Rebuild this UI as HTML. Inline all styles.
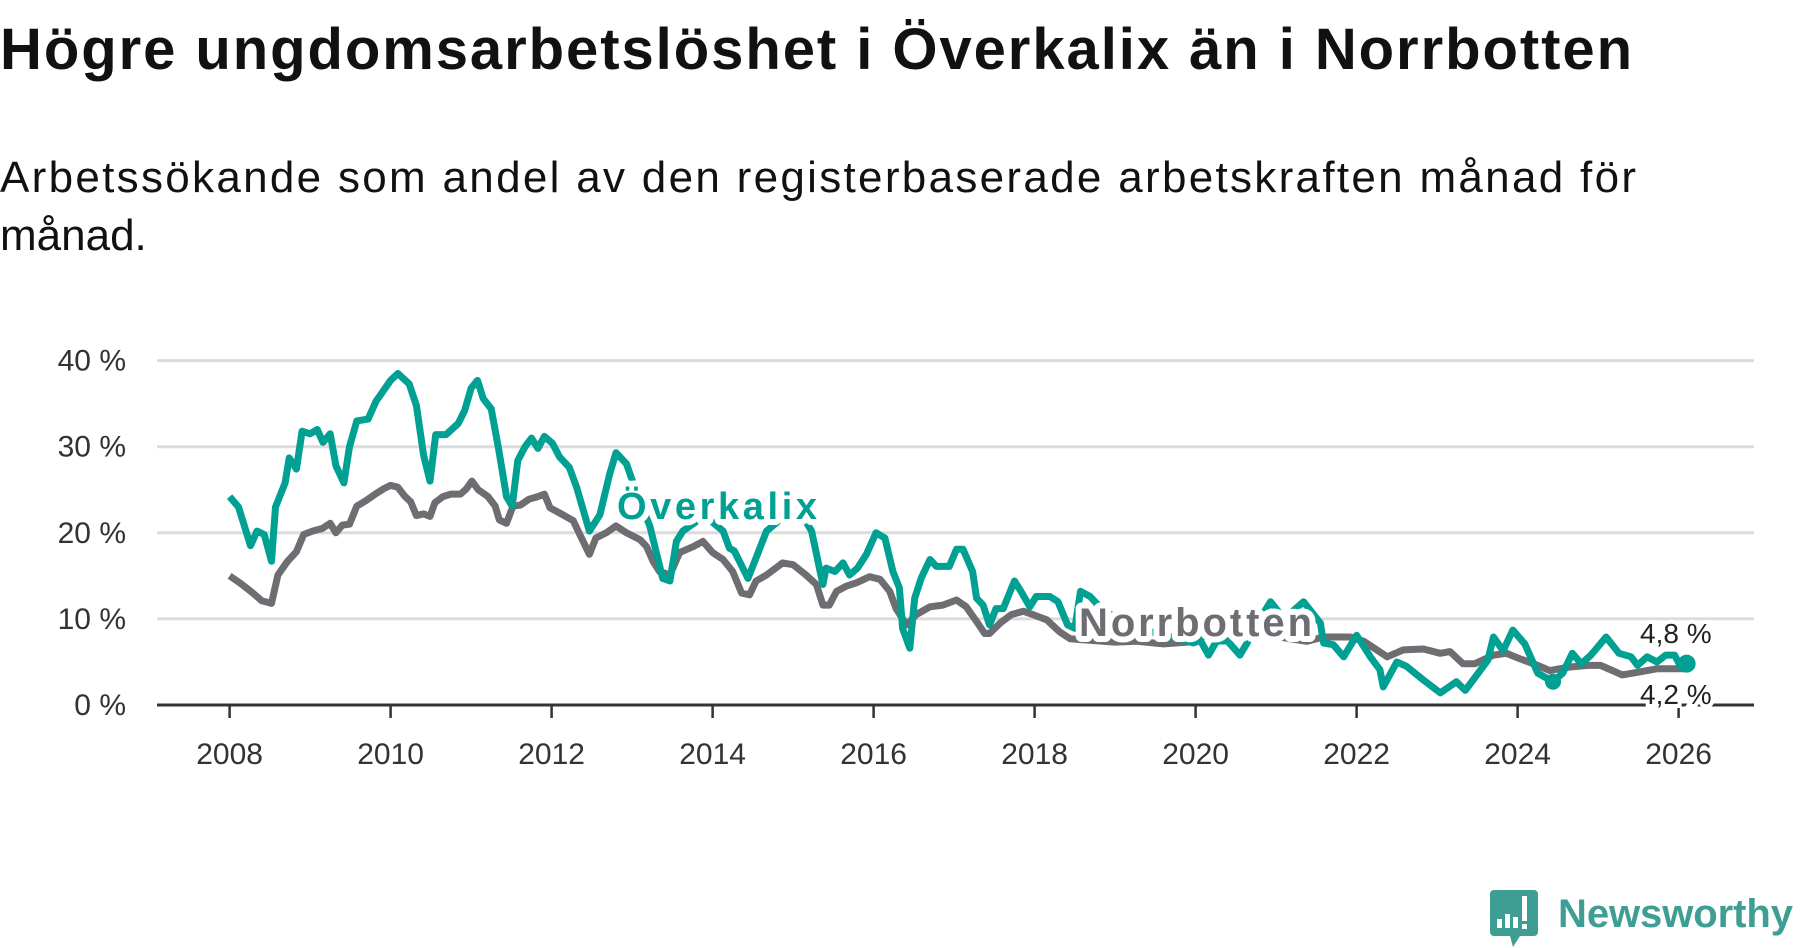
<!DOCTYPE html>
<html><head><meta charset="utf-8"><style>
html,body{margin:0;padding:0;background:#fff;}
svg{display:block;font-family:"Liberation Sans",sans-serif;}
</style></head><body>
<svg id="chart" width="1800" height="948" viewBox="0 0 1800 948">
<text x="0" y="69" font-size="58" font-weight="bold" fill="#111" textLength="1632">Högre ungdomsarbetslöshet i Överkalix än i Norrbotten</text>
<text x="0" y="192" font-size="44" fill="#111" textLength="1636">Arbetssökande som andel av den registerbaserade arbetskraften månad för</text>
<text x="0" y="250" font-size="44" fill="#111">månad.</text>
<g id="grid"></g>
<g id="axes"></g>
<g id="series"></g>
<g id="labels"></g>
<g>
<path d="M1494 890 h40 a4 4 0 0 1 4 4 v38 a4 4 0 0 1 -4 4 h-14 l-7 11 l-3 -11 h-16 a4 4 0 0 1 -4 -4 v-38 a4 4 0 0 1 4 -4z" fill="#3e9e94"/>
<rect x="1497" y="919" width="5" height="9" fill="#fff"/>
<rect x="1505" y="914" width="5" height="14" fill="#fff"/>
<rect x="1513" y="917" width="5" height="11" fill="#fff"/>
<rect x="1522" y="896" width="5" height="25" fill="#fff"/>
<rect x="1522" y="924" width="5" height="5" fill="#fff"/>
<text x="1558" y="927" font-size="40" font-weight="bold" fill="#3e9e94" textLength="235">Newsworthy</text>
</g>
</svg>
<script>
const yTicks = [0, 10, 20, 30, 40];
const yTickLabels = ["0 %", "10 %", "20 %", "30 %", "40 %"];
const xTicks = [2008, 2010, 2012, 2014, 2016, 2018, 2020, 2022, 2024, 2026];
const xTickLabels = ["2008", "2010", "2012", "2014", "2016", "2018", "2020", "2022", "2024", "2026"];
const overkalixDates = [
2008.0,2008.11,2008.26,2008.34,2008.43,2008.52,2008.57,2008.69,2008.74,2008.83,
2008.9,2009.0,2009.09,2009.16,2009.25,2009.32,2009.42,2009.49,2009.58,2009.72,
2009.82,2009.91,2010.0,2010.09,2010.23,2010.32,2010.41,2010.49,2010.56,2010.69,
2010.84,2010.92,2011.0,2011.08,2011.15,2011.25,2011.34,2011.44,2011.51,2011.58,
2011.67,2011.75,2011.83,2011.91,2012.01,2012.1,2012.22,2012.31,2012.47,2012.6,
2012.72,2012.8,2012.93,2013.08,2013.22,2013.38,2013.47,2013.55,2013.63,2013.9,
2014.13,2014.21,2014.27,2014.44,2014.54,2014.67,2014.9,2015.05,2015.23,2015.37,
2015.41,2015.52,2015.62,2015.7,2015.8,2015.91,2016.03,2016.14,2016.24,2016.32,
2016.36,2016.45,2016.51,2016.59,2016.7,2016.78,2016.94,2017.03,2017.11,2017.23,
2017.28,2017.36,2017.44,2017.52,2017.61,2017.75,2017.83,2017.94,2018.02,2018.19,
2018.29,2018.41,2018.5,2018.57,2018.69,2018.85,2019.05,2019.25,2019.45,2019.65,
2019.85,2019.97,2020.06,2020.16,2020.26,2020.39,2020.55,2020.64,2020.8,2020.93,
2021.1,2021.34,2021.55,2021.59,2021.71,2021.84,2022.0,2022.17,2022.29,2022.33,
2022.5,2022.62,2022.83,2023.04,2023.24,2023.35,2023.51,2023.63,2023.7,2023.82,
2023.94,2024.09,2024.25,2024.44,2024.56,2024.68,2024.79,2024.91,2025.1,2025.26,
2025.41,2025.49,2025.61,2025.73,2025.84,2025.95,2026.03,2026.1];
const overkalixValues = [
24.2,23,18.5,20.2,19.8,16.7,23,25.8,28.7,27.4,
31.8,31.5,32,30.5,31.5,27.8,25.8,30,33,33.2,
35.3,36.5,37.7,38.5,37.3,34.8,29,26,31.4,31.4,
32.7,34.2,36.8,37.7,35.6,34.4,29.8,24.2,23.1,28.4,
30,31,29.8,31.2,30.4,28.8,27.6,25.3,20.2,22.1,
26.8,29.3,28,24,20.8,14.7,14.4,19,20.2,22,
20.2,18.2,17.9,14.7,17.1,20.2,22,23,20.2,14,
15.9,15.5,16.5,15.1,15.9,17.5,20,19.4,15.5,13.6,
8.9,6.6,12.4,14.7,16.9,16.1,16.1,18.1,18.1,15.5,
12.4,11.6,9.3,11.2,11.2,14.4,13.2,11.4,12.6,12.6,
12,9.3,8.9,13.2,12.6,11,10,9,8.5,8,
7.6,7.2,7.5,5.8,7.4,7.5,5.8,7.2,10,12,
10,12,9.5,7.2,7,5.6,8.1,5.6,4.1,2.1,
5,4.5,2.9,1.4,2.7,1.7,3.7,5.2,7.9,6.3,
8.7,7.1,3.7,2.7,3.7,6,4.8,5.8,7.9,6,
5.6,4.6,5.6,5,5.8,5.8,4.4,4.8];
const norrbottenDates = [
2008.0,2008.14,2008.29,2008.4,2008.52,2008.6,2008.72,2008.83,2008.92,2009.03,
2009.15,2009.25,2009.32,2009.4,2009.49,2009.58,2009.69,2009.81,2009.91,2010.0,
2010.09,2010.18,2010.25,2010.32,2010.41,2010.49,2010.55,2010.65,2010.75,2010.87,
2010.94,2011.01,2011.09,2011.21,2011.3,2011.35,2011.44,2011.52,2011.61,2011.72,
2011.83,2011.91,2011.98,2012.1,2012.27,2012.35,2012.47,2012.55,2012.68,2012.8,
2012.93,2013.1,2013.18,2013.26,2013.34,2013.47,2013.59,2013.76,2013.88,2014.0,
2014.13,2014.25,2014.36,2014.46,2014.54,2014.67,2014.87,2015.0,2015.16,2015.29,
2015.37,2015.45,2015.54,2015.66,2015.79,2015.95,2016.08,2016.2,2016.28,2016.41,
2016.53,2016.7,2016.86,2017.03,2017.15,2017.28,2017.38,2017.44,2017.57,2017.71,
2017.86,2017.98,2018.15,2018.31,2018.44,2018.7,2019.0,2019.27,2019.6,2019.9,
2020.3,2020.8,2021.1,2021.38,2021.59,2021.92,2022.09,2022.38,2022.58,2022.83,
2023.04,2023.16,2023.32,2023.47,2023.7,2023.86,2024.02,2024.25,2024.4,2024.64,
2024.87,2025.03,2025.18,2025.3,2025.49,2025.73,2025.96,2026.1];
const norrbottenValues = [
15,14.1,13,12.1,11.8,15.1,16.7,17.8,19.8,20.2,
20.5,21.1,20,20.9,21,23.1,23.7,24.5,25.1,25.5,
25.3,24.2,23.6,22,22.2,21.9,23.5,24.2,24.5,24.5,
25.1,26,25,24.2,23.1,21.5,21.1,23.1,23.2,23.9,
24.2,24.5,22.9,22.3,21.4,19.8,17.5,19.4,20,20.8,
20,19.2,18.4,16.7,15.5,15.1,17.7,18.4,19,17.7,
16.9,15.5,13,12.8,14.4,15.1,16.5,16.3,15.1,14,
11.6,11.6,13.2,13.8,14.2,14.9,14.6,13.2,11.2,9.3,
10.5,11.4,11.6,12.2,11.4,9.7,8.3,8.3,9.5,10.5,
10.9,10.5,9.9,8.5,7.7,7.5,7.3,7.4,7.1,7.3,
8.6,8.3,7.8,7.4,7.9,7.9,7.4,5.6,6.4,6.5,
6,6.2,4.8,4.8,5.8,6,5.4,4.6,4,4.4,
4.6,4.6,4,3.5,3.8,4.2,4.2,4.2];

const NS = "http://www.w3.org/2000/svg";
const L = 157, R = 1754, T0 = 2008;
const X0 = 229.6, XS = 80.5;
function xScale(t){ return X0 + (t - T0) * XS; }
function yScale(v){ return 705 - v * 8.61; }
function mk(tag, attrs, parent){ const e = document.createElementNS(NS, tag); for (const k in attrs) e.setAttribute(k, attrs[k]); parent.appendChild(e); return e; }

const grid = document.getElementById('grid');
const axes = document.getElementById('axes');
yTicks.forEach((v, i) => {
  if (v !== 0) {
    const g = mk('line', {x1: L, x2: R, y1: yScale(v), y2: yScale(v), stroke: '#dcdcdc', 'stroke-width': 3}, grid);
    
    
  }
  const t = mk('text', {x: 126, y: yScale(v) + 10, 'text-anchor': 'end', 'font-size': 30, fill: '#333'}, axes);
  t.textContent = yTickLabels[i];
  
  
});
const ax = mk('line', {x1: L, x2: R, y1: 705, y2: 705, stroke: '#333', 'stroke-width': 3}, axes);


xTicks.forEach((yr, i) => {
  const tk = mk('line', {x1: xScale(yr), x2: xScale(yr), y1: 705, y2: 718, stroke: '#333', 'stroke-width': 2.5}, axes);
  
  
  const t = mk('text', {x: xScale(yr), y: 764, 'text-anchor': 'middle', 'font-size': 30, fill: '#333'}, axes);
  t.textContent = xTickLabels[i];
  
  
});

const series = document.getElementById('series');
function path(dates, vals){ return dates.map((d, i) => (i ? 'L' : 'M') + xScale(d).toFixed(1) + ' ' + yScale(vals[i]).toFixed(1)).join(''); }
const pn = mk('path', {d: path(norrbottenDates, norrbottenValues), fill: 'none', stroke: '#6e6d72', 'stroke-width': 7, 'stroke-linejoin': 'round'}, series);


const po = mk('path', {d: path(overkalixDates, overkalixValues), fill: 'none', stroke: '#00a093', 'stroke-width': 7, 'stroke-linejoin': 'round'}, series);


const minIdx = overkalixDates.indexOf(2024.44);
const md = mk('circle', {cx: xScale(overkalixDates[minIdx]), cy: yScale(overkalixValues[minIdx]), r: 8, fill: '#00a093'}, series);


const lo = overkalixDates.length - 1;
const ed = mk('circle', {cx: xScale(overkalixDates[lo]), cy: yScale(overkalixValues[lo]), r: 9, fill: '#00a093'}, series);



const labels = document.getElementById('labels');
function lab(txt, x, y, size, color, len){
  const t = mk('text', {x: x, y: y, 'font-size': size, 'font-weight': 'bold', fill: color, stroke: '#fff', 'stroke-width': 12, 'paint-order': 'stroke', 'stroke-linejoin': 'round', textLength: len}, labels);
  t.textContent = txt;
  return t;
}
const l1 = lab('Överkalix', 617, 519, 38, '#00a093', 200);


const l2 = lab('Norrbotten', 1079, 636, 40, '#6e6d72', 233);


const e1 = mk('text', {x: 1640, y: 643, 'font-size': 28, fill: '#222', stroke: '#fff', 'stroke-width': 8, 'paint-order': 'stroke'}, labels);
e1.textContent = overkalixValues[lo].toFixed(1).replace('.', ',') + ' %';


const e2 = mk('text', {x: 1640, y: 704, 'font-size': 28, fill: '#222', stroke: '#fff', 'stroke-width': 8, 'paint-order': 'stroke'}, labels);
e2.textContent = norrbottenValues[norrbottenValues.length - 1].toFixed(1).replace('.', ',') + ' %';


</script>
</body></html>
